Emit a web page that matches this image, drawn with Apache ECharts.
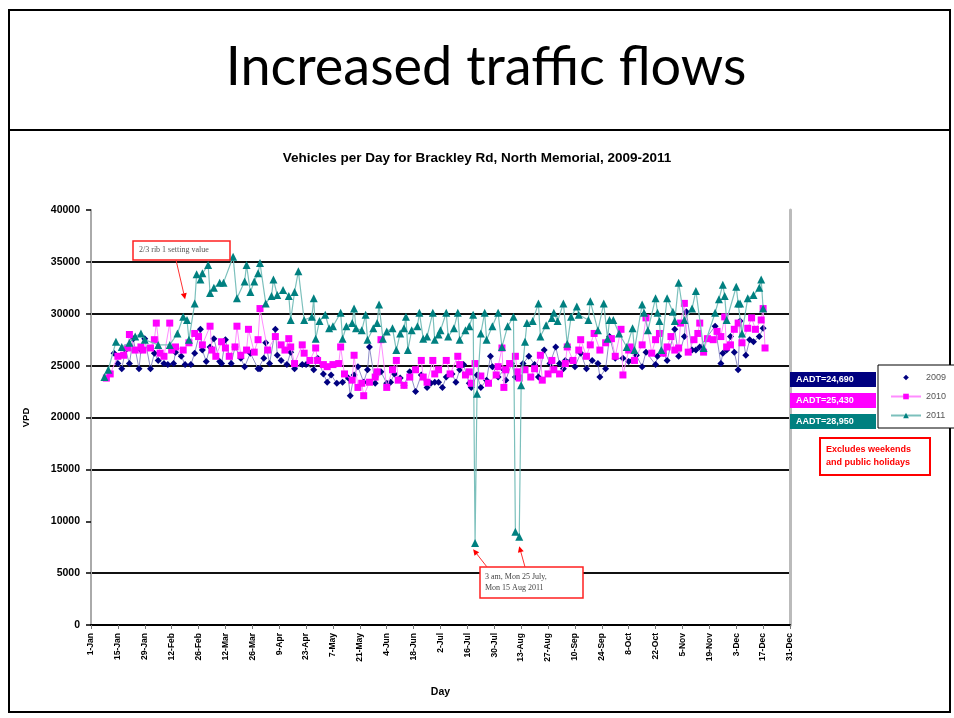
<!DOCTYPE html>
<html>
<head>
<meta charset="utf-8">
<script src="https://cdn.jsdelivr.net/npm/echarts@6/dist/echarts.min.js"></script>
<style>
html, body { margin: 0; padding: 0; background: #fff; }
#main { width: 954px; height: 718px; }
</style>
</head>
<body>
<div id="main"></div>
<script>
// tick labels on the Day axis (one every 14 days, 1-Jan = day 0)
var dayLabels = ['1-Jan', '15-Jan', '29-Jan', '12-Feb', '26-Feb', '12-Mar', '26-Mar', '9-Apr', '23-Apr',
  '7-May', '21-May', '4-Jun', '18-Jun', '2-Jul', '16-Jul', '30-Jul', '13-Aug', '27-Aug', '10-Sep',
  '24-Sep', '8-Oct', '22-Oct', '5-Nov', '19-Nov', '3-Dec', '17-Dec', '31-Dec'];

var seriesNames = ['2009', '2010', '2011'];
var aadtLabels = ['AADT=24,690', 'AADT=25,430', 'AADT=28,950'];

// 2009 - day of year / vehicles per day (weekdays only)
var days2009 = [12, 14, 16, 18, 20, 22, 25, 26, 28, 31, 33, 35, 38, 40, 43, 44, 47, 49, 52, 54,
  57, 58, 60, 62, 64, 67, 68, 70, 73, 75, 78, 80, 83, 87, 88, 90,
  91, 93, 96, 97, 99, 102, 104, 106, 110, 112, 116, 118, 121, 123, 125, 128, 131, 134, 135, 137,
  139, 142, 144, 145, 148, 151, 154, 156, 158, 161, 163, 166, 169, 172, 175, 177, 179,
  181, 183, 185, 188, 190, 192, 194, 197, 198, 201, 203, 206, 208, 209, 212, 215, 216, 219, 221, 225,
  228, 231, 233, 236, 239, 242, 244, 246, 247, 250, 252, 255, 258, 261, 264, 265, 268,
  270, 273, 277, 280, 282, 284, 287, 289, 294, 295, 298, 300, 304, 306, 309, 310, 313, 315, 317, 325,
  328, 329, 331, 333, 335, 337, 338, 341, 343, 345, 348, 350];
var vpd2009 = [26200, 25200, 24700, 26500, 25200, 27600, 24700, 26500, 27600, 24700, 26200, 25500, 25200, 25100, 25200, 26300, 25900, 25100, 25100, 26200,
  28500, 26500, 25400, 26800, 27600, 25400, 25200, 27500, 25200, 26800, 25700, 24900, 26200, 24700, 24700, 25700,
  27200, 25200, 28500, 26000, 25500, 25100, 26300, 24700, 25100, 25100, 24600, 25700, 24200, 23400, 24100, 23300, 23400, 23800, 22100, 24100,
  24900, 23400, 24600, 26800, 23300, 24400, 23300, 23400, 24200, 23800, 23100, 24400, 22500, 24100, 22900, 23300, 23400,
  23400, 22900, 23900, 24200, 23400, 24600, 25100, 23300, 22900, 24100, 22900, 23600, 25900, 24900, 23900, 24600, 23600, 25200, 23900, 25200,
  25900, 25100, 23900, 26500, 25200, 26800, 25200, 24700, 25500, 25500, 24900, 26200, 24700, 25500, 25200, 23900, 24700,
  27800, 25700, 25700, 25400, 25500, 26000, 24900, 26300, 25100, 25900, 26200, 25500, 28500, 25900, 27800, 30200, 26500, 26500, 26800, 28800,
  25200, 26200, 26500, 27800, 26300, 24600, 29300, 26000, 27500, 27300, 27800, 28600];

// 2010
var days2010 = [8, 10, 14, 17, 19, 20, 23, 26, 27, 31, 33, 34, 36, 38, 41, 42, 44, 48, 51, 54,
  56, 58, 62, 63, 65, 68, 70, 72, 75, 76, 78, 81, 82, 85, 87, 88,
  92, 96, 99, 101, 103, 104, 106, 110, 111, 114, 117, 118, 121, 123, 126, 129, 130, 132, 136, 137, 139,
  141, 142, 145, 148, 149, 151, 154, 157, 159, 160, 163, 166, 169, 172, 173, 175, 178, 179,
  181, 185, 187, 191, 192, 195, 197, 198, 200, 203, 207, 211, 212, 214, 215, 216, 218, 221, 222, 223, 226,
  229, 231, 234, 235, 238, 240, 241, 244, 247, 248, 251, 254, 255, 258, 260, 262, 265, 268, 271,
  273, 276, 277, 280, 281, 283, 287, 289, 292, 294, 296, 298, 300, 302, 304, 306, 307, 309, 311, 314,
  316, 317, 319, 321, 324, 326, 328, 330, 331, 333, 335, 337, 339, 342, 344, 346, 349, 350, 351];
var vpd2010 = [23800, 24200, 25900, 26000, 26700, 28000, 26500, 26800, 26500, 26700, 27500, 29100, 26200, 25900, 29100, 26500, 26800, 26500, 27200, 28100,
  27800, 27000, 28800, 26500, 25900, 27300, 26700, 25900, 26800, 28800, 26000, 26500, 28500, 26300, 27500, 30500,
  26500, 27800, 27000, 26500, 27600, 26800, 25200, 27000, 26200, 25500, 26700, 25500, 25100, 24900, 25100, 25200, 26800, 24200, 23600, 26000, 22900,
  23300, 22100, 23400, 23900, 24400, 27500, 22900, 24600, 25500, 23600, 23100, 23900, 24600, 25500, 23900, 23400, 25500, 24200,
  24600, 25500, 24200, 25900, 25100, 24100, 24400, 23300, 25200, 24000, 23300, 24100, 24900, 26700, 22900, 24600, 25200, 25900, 24400, 23800, 24600,
  23900, 24700, 26000, 23600, 24200, 25500, 24600, 24200, 25200, 26800, 25500, 26500, 27500, 25900, 27000, 28100, 26500, 27200, 27600,
  25900, 28500, 24100, 26500, 26800, 25500, 27000, 29600, 26200, 27500, 28100, 26200, 26800, 27800, 26500, 26700, 29100, 31000, 26300, 27500,
  28100, 29100, 26300, 27600, 27500, 28300, 27800, 29700, 26800, 27000, 28500, 29100, 27200, 28600, 29600, 28500, 29400, 30500, 26700];

// 2011
var days2011 = [7, 9, 13, 16, 20, 23, 26, 28, 35, 41, 45, 48, 50, 51, 54, 55, 57, 58, 61, 62,
  64, 67, 69, 74, 76, 80, 81, 83, 85, 87, 88,
  91, 94, 95, 97, 100, 103, 104, 106, 108, 111, 115, 116, 117, 119, 122, 124, 126, 130, 131, 133,
  136, 137, 138, 141, 143, 144, 147, 149, 150, 152, 154, 157, 159, 161, 163, 164, 165, 167, 170, 171,
  173, 175, 178, 179, 181,
  182, 185, 186, 189, 191, 192, 195, 197, 199, 200, 201, 203, 205, 206, 209, 212, 214, 217, 220, 221,
  223, 224, 226, 227, 230, 233, 234, 237, 240, 241, 243, 246, 248, 250, 253, 254, 259, 260, 264, 267, 269, 270,
  272, 275, 279, 282, 283, 287, 288, 290, 294, 295, 296, 297, 300, 303, 304, 306, 309, 313, 315, 319,
  325, 327, 329, 330, 331, 336, 337, 338, 339, 342, 345, 348, 349, 350];
var vpd2011 = [23900, 24600, 27300, 26800, 27200, 27800, 28100, 27500, 27000, 27000, 28100, 29700, 29400, 27500, 31000, 33800, 33300, 33900, 34700, 32000,
  32500, 33000, 33000, 35500, 31500, 33100, 34700, 32100, 33100, 33900, 34900,
  31000, 31700, 33300, 31800, 32300, 31700, 29400, 32100, 34100, 29400, 29700, 31500, 27600, 29300, 29900, 28600, 28800, 30100, 27600, 28800,
  29100, 30500, 28600, 28400, 29900, 27500, 28600, 29100, 30900, 27600, 28300, 28600, 26500, 28100, 28600, 29700, 26500, 28400, 28800, 30100,
  27600, 27800, 30100, 27500, 28000,
  28400, 30100, 27800, 28600, 30100, 27500, 28400, 28800, 29900, 7900, 22300, 28100, 30100, 27500, 28800, 30100, 26800, 28800, 29700, 9000,
  8500, 23100, 27300, 29100, 29300, 31000, 27800, 28900, 29600, 30100, 29300, 31000, 27100, 29700, 30700, 29900, 29400, 31200, 28400, 31000, 27600, 29400,
  29400, 28100, 26800, 28600, 26500, 30900, 30100, 28400, 31500, 30100, 29300, 26500, 31500, 30200, 29300, 33000, 29400, 30500, 32200, 26700,
  30100, 31400, 32800, 31700, 29400, 32600, 31000, 31000, 28100, 31500, 31800, 32500, 33300, 30500];

function pairs(d, v) {
  return d.map(function (x, i) { return [x, v[i]]; });
}

var chart = echarts.init(document.getElementById('main'));

var option = {
  animation: false,
  backgroundColor: '#fff',
  title: {
    text: 'Vehicles per Day for Brackley Rd, North Memorial, 2009-2011',
    left: 'center',
    top: 146,
    textStyle: { fontFamily: 'Liberation Sans', fontSize: 13.5, fontWeight: 'bold', color: '#000' }
  },
  grid: { left: 91, right: 164, top: 210, bottom: 93 },
  legend: {
    orient: 'vertical',
    left: 878,
    top: 365,
    backgroundColor: '#fff',
    borderColor: '#000',
    borderWidth: 1,
    padding: [8, 40, 8, 12],
    itemGap: 10,
    itemWidth: 30,
    itemHeight: 7,
    textStyle: { fontFamily: 'Liberation Sans', fontSize: 9, color: '#555' },
    data: [
      { name: '2009', lineStyle: { opacity: 0 } },
      { name: '2010' },
      { name: '2011' }
    ]
  },
  xAxis: {
    type: 'value',
    min: 0,
    max: 364,
    interval: 14,
    name: 'Day',
    nameLocation: 'middle',
    nameGap: 62,
    nameTextStyle: { fontFamily: 'Liberation Sans', fontSize: 10.5, fontWeight: 'bold', color: '#000' },
    axisLine: { lineStyle: { color: '#000', width: 2 } },
    axisTick: { show: true, length: 4, lineStyle: { color: '#777' } },
    axisLabel: {
      rotate: 90,
      margin: 8,
      fontFamily: 'Liberation Sans',
      fontSize: 8.5,
      fontWeight: 'bold',
      color: '#000',
      formatter: function (v) { return dayLabels[Math.round(v / 14)]; }
    },
    splitLine: { show: false }
  },
  yAxis: [{
    type: 'value',
    min: 0,
    max: 40000,
    interval: 5000,
    name: 'VPD',
    nameLocation: 'middle',
    nameGap: 60,
    nameTextStyle: { fontFamily: 'Liberation Sans', fontSize: 9.5, fontWeight: 'bold', color: '#000' },
    axisLine: { show: true, lineStyle: { color: '#aaa', width: 2 } },
    axisTick: { show: true, length: 5, lineStyle: { color: '#000', width: 1.5 } },
    axisLabel: {
      margin: 11,
      fontFamily: 'Liberation Sans',
      fontSize: 10.5,
      fontWeight: 'bold',
      color: '#000',
      formatter: function (v) { return String(v); }
    },
    splitLine: {
      show: true,
      lineStyle: {
        width: 2,
        color: ['rgba(0,0,0,0)', '#111', 'rgba(0,0,0,0)', '#111', '#111', '#111', '#111', '#111', 'rgba(0,0,0,0)']
      }
    }
  }, {
    type: 'value',
    position: 'right',
    min: 0,
    max: 40000,
    axisLine: { show: true, lineStyle: { color: '#bbb', width: 3 } },
    axisTick: { show: false },
    axisLabel: { show: false },
    splitLine: { show: false }
  }],
  series: [{
    name: '2009',
    type: 'line',
    data: pairs(days2009, vpd2009),
    symbol: 'diamond',
    symbolSize: 7,
    itemStyle: { color: '#000080' },
    lineStyle: { color: '#8f8fc8', width: 1 },
    z: 2
  }, {
    name: '2010',
    type: 'line',
    data: pairs(days2010, vpd2010),
    symbol: 'rect',
    symbolSize: 7,
    itemStyle: { color: '#ff00ff' },
    lineStyle: { color: '#ff8cff', width: 1 },
    z: 3
  }, {
    name: '2011',
    type: 'line',
    data: pairs(days2011, vpd2011),
    symbol: 'triangle',
    symbolSize: 8,
    itemStyle: { color: '#008080' },
    lineStyle: { color: '#7cc0bc', width: 1.2 },
    z: 4
  }]
};

chart.setOption(option);

// arrow from a pixel point to a data point
function arrow(from, toData) {
  var to = chart.convertToPixel({ gridIndex: 0 }, toData);
  var ang = Math.atan2(to[1] - from[1], to[0] - from[0]);
  var len = 6, wid = 3;
  var bx = to[0] - len * Math.cos(ang), by = to[1] - len * Math.sin(ang);
  var px = -Math.sin(ang) * wid, py = Math.cos(ang) * wid;
  return [{
    type: 'line', z: 50,
    shape: { x1: from[0], y1: from[1], x2: bx, y2: by },
    style: { stroke: '#ff3030', lineWidth: 1 }
  }, {
    type: 'polygon', z: 50,
    shape: { points: [[to[0], to[1]], [bx + px, by + py], [bx - px, by - py]] },
    style: { fill: '#ff0000' }
  }];
}

var aadtColors = ['#000080', '#ff00ff', '#008080'];
var graphics = [
  // slide frame and heading
  { type: 'rect', z: 0, shape: { x: 9, y: 10, width: 941, height: 702 }, style: { fill: 'none', stroke: '#000', lineWidth: 2 } },
  { type: 'line', z: 0, shape: { x1: 9, y1: 130, x2: 950, y2: 130 }, style: { stroke: '#000', lineWidth: 2 } },
  { type: 'text', z: 10, x: 486, y: 68, style: { text: 'Increased traffic flows', font: '54px Lato', fill: '#000', align: 'center', verticalAlign: 'middle' } },
  // note box
  { type: 'rect', z: 10, shape: { x: 820, y: 438, width: 110, height: 37 }, style: { fill: '#fff', stroke: '#ff0000', lineWidth: 2 } },
  { type: 'text', z: 11, x: 826, y: 456, style: { text: 'Excludes weekends\nand public holidays', font: 'bold 9px "Liberation Sans"', fill: '#ff0000', verticalAlign: 'middle', lineHeight: 13 } },
  // annotation 1
  { type: 'rect', z: 40, shape: { x: 133, y: 241, width: 97, height: 19 }, style: { fill: '#fff', stroke: '#ff2020', lineWidth: 1.5 } },
  { type: 'text', z: 41, x: 139, y: 250, style: { text: '2/3 rib 1 setting value', font: '8px "Liberation Serif"', fill: '#555', verticalAlign: 'middle' } },
  // annotation 2
  { type: 'rect', z: 40, shape: { x: 480, y: 567, width: 103, height: 31 }, style: { fill: '#fff', stroke: '#ff2020', lineWidth: 1.5 } },
  { type: 'text', z: 41, x: 485, y: 582, style: { text: '3 am, Mon 25 July,\nMon 15 Aug 2011', font: '8px "Liberation Serif"', fill: '#444', verticalAlign: 'middle', lineHeight: 11 } }
];
aadtLabels.forEach(function (t, i) {
  graphics.push({ type: 'rect', z: 10, shape: { x: 790, y: 372 + i * 21, width: 86, height: 15 }, style: { fill: aadtColors[i] } });
  graphics.push({ type: 'text', z: 11, x: 796, y: 379.5 + i * 21, style: { text: t, font: 'bold 9px "Liberation Sans"', fill: '#fff', verticalAlign: 'middle' } });
});
graphics = graphics
  .concat(arrow([176, 260], [49, 31400]))
  .concat(arrow([487, 567], [199, 7300]))
  .concat(arrow([525, 567], [223, 7600]));

chart.setOption({ graphic: graphics });
</script>
</body>
</html>
